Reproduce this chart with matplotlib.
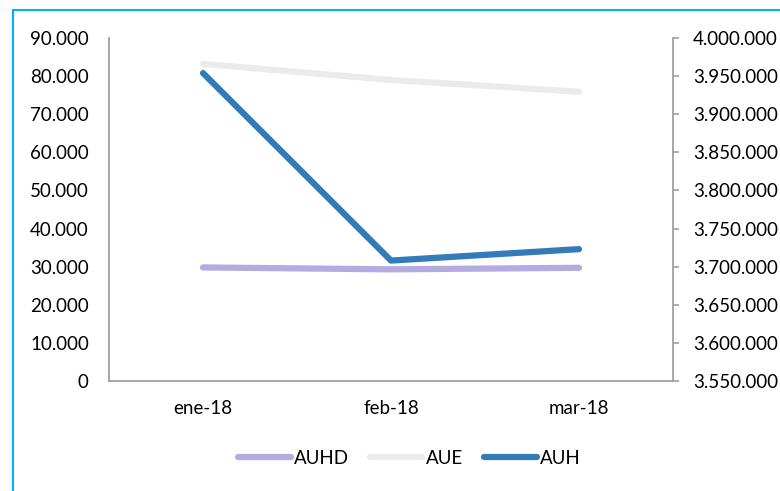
import matplotlib.pyplot as plt
import matplotlib.patches as patches
from matplotlib.ticker import FuncFormatter
import numpy as np

plt.rcParams['font.family'] = ['Lato', 'DejaVu Sans']

# data
months = ["ene-18", "feb-18", "mar-18"]
auhd = [29800, 29300, 29700]      # left axis
auh = [80800, 31600, 34600]       # left axis
aue = [3966000, 3945000, 3929500]  # right axis

c_auhd = "#B4ACE0"
c_aue = "#EBEBEB"
c_auh = "#337AB9"
c_spine = "#A0A0A0"


def miles(v, pos):
    return f"{v:,.0f}".replace(",", ".")


fig = plt.figure(figsize=(7.8, 4.91), dpi=100)
ax = fig.add_axes([109 / 780, 1 - 381 / 491, (673 - 109) / 780, (381 - 38) / 491])
ax2 = ax.twinx()

x = np.arange(len(months))
l1, = ax.plot(x, auhd, color=c_auhd, lw=4.5, solid_capstyle='round', label="AUHD", zorder=2)
l3, = ax.plot(x, auh, color=c_auh, lw=4.5, solid_capstyle='round', label="AUH", zorder=4)
l2, = ax2.plot(x, aue, color=c_aue, lw=4.5, solid_capstyle='round', label="AUE", zorder=1)

ax.set_zorder(ax2.get_zorder() + 1)
ax.patch.set_visible(False)

ax.set_xlim(-0.5, 2.5)
ax.set_ylim(0, 90000)
ax.set_yticks(np.arange(0, 90001, 10000))
ax2.set_ylim(3550000, 4000000)
ax2.set_yticks(np.arange(3550000, 4000001, 50000))
ax.yaxis.set_major_formatter(FuncFormatter(miles))
ax2.yaxis.set_major_formatter(FuncFormatter(miles))
ax.set_xticks(x)
ax.set_xticklabels(months)

for a in (ax, ax2):
    for s in a.spines.values():
        s.set_visible(False)
ax.spines['left'].set_visible(True)
ax.spines['bottom'].set_visible(True)
ax2.spines['right'].set_visible(True)
for s in (ax.spines['left'], ax.spines['bottom'], ax2.spines['right']):
    s.set_color(c_spine)
    s.set_linewidth(1.3)

ax.tick_params(axis='y', length=0, pad=14.5, labelsize=13.5, colors='black')
ax.tick_params(axis='x', length=0, pad=14, labelsize=13.5, colors='black')
ax2.tick_params(axis='y', length=4.5, width=1.2, color=c_spine, pad=10, labelsize=13.5,
                labelcolor='black')

fig.legend([l1, l2, l3], ["AUHD", "AUE", "AUH"], loc='center',
           bbox_to_anchor=(0.525, 1 - 458 / 491), ncol=3, frameon=False,
           fontsize=13.5, handlelength=2.8, handletextpad=0.2, columnspacing=1.1)

# outer frame
frame = patches.Rectangle((12.7 / 780, -0.1), 1.2, 1 - 10 / 491 + 0.1,
                          transform=fig.transFigure, fill=False,
                          edgecolor="#00B0F0", linewidth=1.5, zorder=10)
fig.patches.append(frame)

plt.savefig("out.png", dpi=100)
